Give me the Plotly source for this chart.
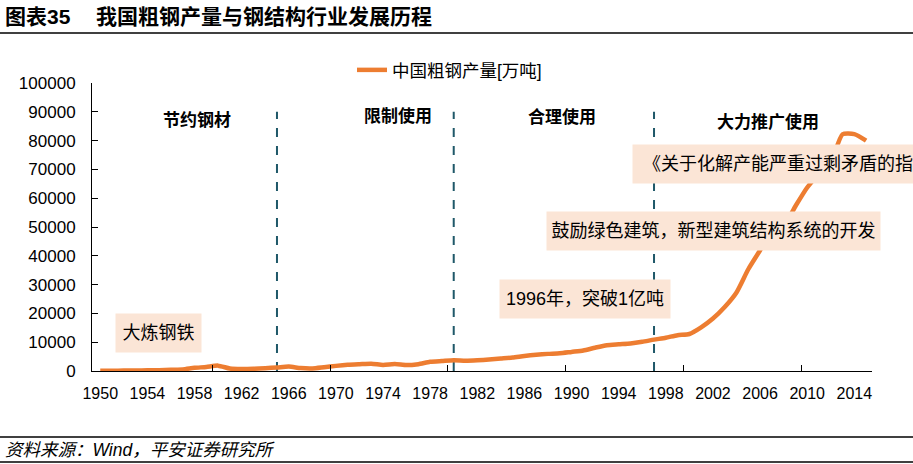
import plotly.graph_objects as go

# 中国粗钢产量, 万吨
years = list(range(1950, 2016))
steel = [61, 90, 135, 177, 223, 285, 447, 535, 1108, 1387,
         1866, 870, 667, 762, 964, 1223, 1532, 1029, 904, 1333,
         1779, 2132, 2338, 2522, 2112, 2390, 2046, 2374, 3178, 3448,
         3712, 3560, 3716, 4002, 4347, 4679, 5221, 5628, 5943, 6159,
         6635, 7100, 8094, 8956, 9261, 9536, 10124, 10894, 11559, 12426,
         12850, 15163, 18237, 22234, 27280, 35324, 41915, 48929, 50306, 57218,
         63723, 68528, 72388, 82200, 82270, 80000]
series_name = "中国粗钢产量[万吨]"
tick_years = list(range(1950, 2015, 4))
y_ticks = list(range(0, 100001, 10000))

# phase boundaries and labels
boundaries = [1965, 1980, 1997]
phases = ["节约钢材", "限制使用", "合理使用", "大力推广使用"]
phase_x = [1958.2, 1975.3, 1989.2, 2006.7]
phase_y = [87150, 88200, 88200, 86450]

notes = ["大炼钢铁", "1996年，突破1亿吨", "鼓励绿色建筑，新型建筑结构系统的开发",
         "《关于化解产能严重过剩矛盾的指导意见》"]

L, R, T, B = 92, 41, 83, 93
W, H = 913, 464
PW, PH = W - L - R, H - T - B


def px(x):
    return (x - L) / PW


def py(y):
    return (H - B - y) / PH


cjk = "Liberation Sans, Arial, Noto Sans CJK SC"
fig = go.Figure()
fig.add_trace(go.Scatter(x=years, y=steel, name=series_name, mode="lines",
                         line=dict(color="#ED7D31", width=4.5, shape="spline", smoothing=0.6)))

for b in boundaries:
    fig.add_shape(type="line", xref="x", yref="y", x0=b, x1=b, y0=0, y1=90000,
                  line=dict(color="#1F5869", width=2, dash="dash"), layer="below")

for t, x, y in zip(phases, phase_x, phase_y):
    fig.add_annotation(x=x, y=y, xref="x", yref="y", text="<b>" + t + "</b>", showarrow=False,
                       font=dict(size=17, color="black", family=cjk))

box = "#FBE5D6"
boxes = [(158.5, 333, 85), (585, 299, 170), (713.5, 231, 333)]
for t, (cx, cy, w) in zip(notes[:3], boxes):
    fig.add_annotation(x=px(cx), y=py(cy), xref="paper", yref="paper", text=t, showarrow=False,
                       width=w, height=38, borderpad=0, bgcolor=box, align="center",
                       xanchor="center", yanchor="middle",
                       font=dict(size=18, color="black", family=cjk))
# this one runs off the right edge in the original too
fig.add_annotation(x=px(632), y=py(164), xref="paper", yref="paper",
                   text="\u00a0\u00a0" + notes[3], showarrow=False,
                   width=380, height=38, borderpad=0, bgcolor=box, align="left",
                   xanchor="left", yanchor="middle",
                   font=dict(size=18, color="black", family=cjk))

# title, rules, source
fig.add_annotation(x=px(3), y=py(17), xref="paper", yref="paper", text="<b>图表35</b>",
                   showarrow=False, xanchor="left", yanchor="middle",
                   font=dict(size=21, color="black", family=cjk))
fig.add_annotation(x=px(94), y=py(17), xref="paper", yref="paper",
                   text="<b>我国粗钢产量与钢结构行业发展历程</b>",
                   showarrow=False, xanchor="left", yanchor="middle",
                   font=dict(size=21, color="black", family=cjk))
fig.add_annotation(x=px(3), y=py(450), xref="paper", yref="paper",
                   text="<i>资料来源：Wind，平安证券研究所</i>",
                   showarrow=False, xanchor="left", yanchor="middle",
                   font=dict(size=17.5, color="black", family=cjk))
for yy, lw in [(33, 1.5), (437, 1.5), (462, 1.5)]:
    fig.add_shape(type="line", xref="paper", yref="paper", x0=px(0), x1=px(W),
                  y0=py(yy), y1=py(yy), line=dict(color="black", width=lw))

fig.update_xaxes(range=[1949.3, 2015.5], tickvals=tick_years, ticktext=[str(v) for v in tick_years],
                 ticks="", showline=True, linecolor="black", linewidth=1, showgrid=False,
                 zeroline=False, ticklabelstandoff=8,
                 tickfont=dict(size=16, color="black", family=cjk),
                 minor=dict(tickvals=[1959.5, 1969.5, 1979.5, 1989.5, 1999.5, 2009.5],
                            ticks="inside", ticklen=6, tickcolor="black", tickwidth=1))
fig.update_yaxes(range=[0, 100000], tickvals=y_ticks, tickformat="d", ticks="inside", ticklen=6,
                 tickcolor="black", showline=True, linecolor="black", linewidth=1,
                 showgrid=False, zeroline=False, ticklabelstandoff=12,
                 tickfont=dict(size=17, color="black", family=cjk))

fig.update_layout(width=W, height=H, margin=dict(l=L, r=R, t=T, b=B),
                  paper_bgcolor="white", plot_bgcolor="white",
                  showlegend=True,
                  legend=dict(orientation="h", x=px(352), y=py(70), xanchor="left", yanchor="middle",
                              font=dict(size=17.5, color="black", family=cjk),
                              bgcolor="rgba(0,0,0,0)"))

fig.write_html("out.html", config={"displayModeBar": False},
               post_script="document.body.style.margin='0';")
